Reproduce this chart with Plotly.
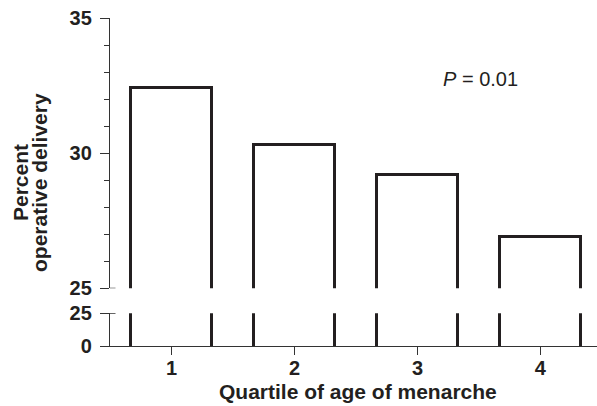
import plotly.graph_objects as go

# Operative delivery rate by quartile of age at menarche
quartiles = [1, 2, 3, 4]
pct_operative = [32.4, 30.3, 29.2, 26.9]
p_label = "<i>P</i> = 0.01"

W, H = 597, 406
ML, MR, MT, MB = 110, 0, 18, 60
plot_h = H - MT - MB
plot_w = W - ML - MR

def py(px):
    """pixel row -> paper y"""
    return (H - MB - px) / plot_h

def px_(x):
    """pixel column -> paper x"""
    return (x - ML) / plot_w

FONT = "Liberation Sans, Arial, Helvetica, sans-serif"
INK = "#231f20"
AX = "#333333"

fig = go.Figure()

bar_marker = dict(color="white", line=dict(color=INK, width=3))

# upper panel (25-35): bars start at zero, so their bottoms fall below the break
fig.add_trace(go.Bar(
    x=quartiles, y=pct_operative, width=0.66, marker=bar_marker,
    xaxis="x", yaxis="y", showlegend=False, hoverinfo="skip",
))
# lower panel (0-25): start the bars a little below zero so only the sides show
sub_zero = 3
fig.add_trace(go.Bar(
    x=quartiles, y=[v + sub_zero for v in pct_operative], base=-sub_zero,
    width=0.66, marker=bar_marker,
    xaxis="x", yaxis="y2", showlegend=False, hoverinfo="skip",
))

tickfont = dict(family=FONT, size=20, color=INK, weight="bold")

fig.update_layout(
    width=W,
    height=H,
    margin=dict(l=ML, r=MR, t=MT, b=MB),
    paper_bgcolor="white",
    plot_bgcolor="white",
    bargap=0,
    xaxis=dict(
        domain=[0, 1],
        anchor="y2",
        range=[0.5, 4.46],
        tickvals=quartiles,
        ticktext=[str(q) for q in quartiles],
        showline=True,
        linecolor=AX,
        linewidth=1.3,
        ticks="outside",
        ticklen=8,
        tickwidth=1.3,
        tickcolor=AX,
        showgrid=False,
        zeroline=False,
        tickfont=tickfont,
        ticklabelstandoff=-4,
    ),
    yaxis=dict(
        domain=[py(288.3), 1],
        anchor="x",
        range=[25, 35],
        tickvals=[25, 30, 35],
        showline=True,
        linecolor=AX,
        linewidth=1.3,
        ticks="outside",
        ticklen=9,
        tickwidth=1.3,
        tickcolor=AX,
        minor=dict(dtick=1, ticks="outside", ticklen=5, tickwidth=1.3, tickcolor=AX),
        showgrid=False,
        zeroline=False,
        tickfont=tickfont,
        ticklabelstandoff=4,
    ),
    yaxis2=dict(
        domain=[0, py(313.3)],
        anchor="x",
        range=[0, 25],
        tickvals=[0, 25],
        showline=True,
        linecolor=AX,
        linewidth=1.3,
        ticks="outside",
        ticklen=9,
        tickwidth=1.3,
        tickcolor=AX,
        showgrid=False,
        zeroline=False,
        tickfont=tickfont,
        ticklabelstandoff=4,
    ),
)

# inward stubs at the axis break
for yref in ("y", "y2"):
    fig.add_shape(
        type="line", xref="paper", yref=yref,
        x0=0, x1=px_(115.5), y0=25, y1=25,
        line=dict(color=AX, width=1.3),
    )

title_font = dict(family=FONT, size=21, color=INK, weight="bold")

fig.add_annotation(
    text="Quartile of age of menarche", xref="paper", yref="paper",
    x=px_(358), y=py(392), xanchor="center", yanchor="middle",
    showarrow=False, font=title_font,
)
fig.add_annotation(
    text="Percent", xref="paper", yref="paper",
    x=px_(20), y=py(183), xanchor="center", yanchor="middle",
    textangle=-90, showarrow=False, font=title_font,
)
fig.add_annotation(
    text="operative delivery", xref="paper", yref="paper",
    x=px_(39), y=py(183), xanchor="center", yanchor="middle",
    textangle=-90, showarrow=False, font=title_font,
)
fig.add_annotation(
    text=p_label, xref="paper", yref="paper",
    x=px_(480), y=py(79), xanchor="center", yanchor="middle",
    showarrow=False, font=dict(family=FONT, size=20, color=INK),
)

fig.write_html("out.html")
